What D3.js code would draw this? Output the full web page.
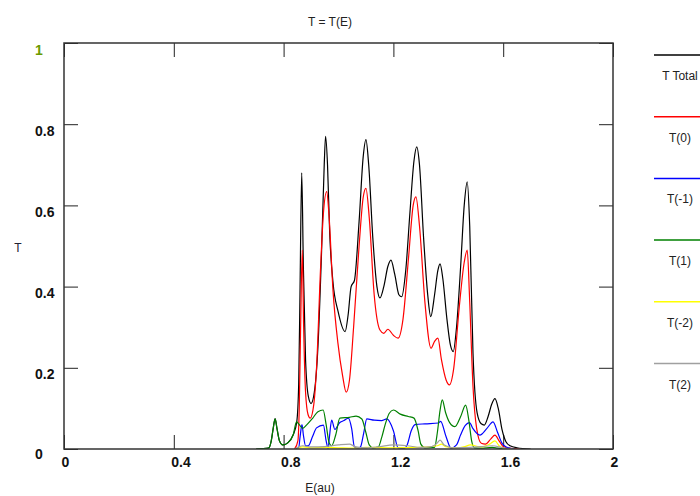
<!DOCTYPE html>
<html>
<head>
<meta charset="utf-8">
<script src="https://cdn.jsdelivr.net/npm/d3@7"></script>
<style>
  body { margin: 0; background: #fff; overflow: hidden; }
  text { font-family: "Liberation Sans", Arial, sans-serif; }
</style>
</head>
<body>
<script>
var width = 700,
    height = 496;

// axis ticks
var xTicks = [0, 0.4, 0.8, 1.2, 1.6, 2];
var yTicks = [0, 0.2, 0.4, 0.6, 0.8, 1];

// series: [E, T]
var tTotal = [
  [0.70, 0], [0.745, 0.002], [0.755, 0.02], [0.762, 0.05], [0.769, 0.075], [0.776, 0.05],
  [0.785, 0.02], [0.797, 0.01], [0.815, 0.015], [0.835, 0.035], [0.848, 0.067], [0.855, 0.16],
  [0.860, 0.40], [0.866, 0.68], [0.872, 0.45], [0.880, 0.22], [0.890, 0.13], [0.900, 0.112],
  [0.912, 0.14], [0.925, 0.25], [0.938, 0.48], [0.948, 0.70], [0.953, 0.77], [0.960, 0.70],
  [0.968, 0.53], [0.980, 0.41], [0.998, 0.34], [1.024, 0.289], [1.035, 0.33], [1.046, 0.40],
  [1.058, 0.415], [1.075, 0.56], [1.090, 0.72], [1.100, 0.762], [1.110, 0.70], [1.125, 0.52],
  [1.140, 0.40], [1.151, 0.372], [1.165, 0.40], [1.180, 0.45], [1.191, 0.465], [1.205, 0.43],
  [1.220, 0.38], [1.230, 0.375], [1.245, 0.44], [1.260, 0.58], [1.275, 0.71], [1.285, 0.744],
  [1.295, 0.70], [1.310, 0.52], [1.325, 0.38], [1.336, 0.326], [1.350, 0.38], [1.362, 0.44],
  [1.370, 0.456], [1.380, 0.42], [1.395, 0.32], [1.408, 0.255], [1.418, 0.240], [1.430, 0.30],
  [1.445, 0.45], [1.458, 0.60], [1.469, 0.658], [1.478, 0.55], [1.490, 0.236], [1.505, 0.089],
  [1.520, 0.062], [1.531, 0.059], [1.545, 0.08], [1.558, 0.11], [1.570, 0.124], [1.582, 0.10],
  [1.596, 0.047], [1.610, 0.018], [1.625, 0.008], [1.650, 0.003], [1.70, 0]
];

var t0 = [
  [0.84, 0], [0.852, 0.02], [0.857, 0.10], [0.862, 0.30], [0.868, 0.49], [0.873, 0.30],
  [0.880, 0.14], [0.889, 0.085], [0.897, 0.076], [0.910, 0.11], [0.920, 0.20], [0.935, 0.45],
  [0.945, 0.58], [0.957, 0.634], [0.965, 0.58], [0.980, 0.39], [0.998, 0.26], [1.015, 0.18],
  [1.028, 0.14], [1.040, 0.17], [1.055, 0.30], [1.075, 0.50], [1.090, 0.62], [1.100, 0.642],
  [1.112, 0.57], [1.130, 0.38], [1.151, 0.293], [1.165, 0.285], [1.180, 0.295], [1.200, 0.28],
  [1.217, 0.273], [1.235, 0.32], [1.255, 0.47], [1.272, 0.60], [1.282, 0.621], [1.295, 0.55],
  [1.315, 0.36], [1.337, 0.248], [1.350, 0.265], [1.362, 0.273], [1.375, 0.22], [1.392, 0.17],
  [1.404, 0.158], [1.420, 0.20], [1.440, 0.35], [1.458, 0.46], [1.469, 0.490], [1.477, 0.38],
  [1.490, 0.154], [1.503, 0.052], [1.520, 0.014], [1.535, 0.012], [1.555, 0.025], [1.570, 0.034],
  [1.585, 0.02], [1.600, 0.006], [1.620, 0.002], [1.66, 0]
];

var tm1 = [
  [0.84, 0], [0.855, 0.003], [0.860, 0.03], [0.867, 0.06], [0.872, 0.035], [0.880, 0.008],
  [0.890, 0.008], [0.905, 0.03], [0.920, 0.052], [0.945, 0.059], [0.955, 0.02], [0.962, 0.002],
  [0.967, 0.03], [0.975, 0.071], [0.987, 0.048], [1.003, 0.064], [1.020, 0.07], [1.036, 0.076],
  [1.048, 0.05], [1.058, 0.005], [1.070, 0.002], [1.080, 0.005], [1.092, 0.04], [1.103, 0.074],
  [1.130, 0.071], [1.157, 0.07], [1.176, 0.074], [1.200, 0.045], [1.217, 0.003], [1.240, 0.002],
  [1.250, 0.01], [1.265, 0.045], [1.279, 0.06], [1.315, 0.062], [1.364, 0.064], [1.372, 0.068],
  [1.392, 0.03], [1.410, 0.002], [1.430, 0.01], [1.445, 0.035], [1.462, 0.058], [1.477, 0.065],
  [1.490, 0.05], [1.515, 0.034], [1.540, 0.05], [1.563, 0.067], [1.580, 0.04], [1.596, 0.014],
  [1.614, 0.004], [1.64, 0]
];

var t1 = [
  [0.70, 0], [0.745, 0.002], [0.755, 0.02], [0.762, 0.05], [0.769, 0.074], [0.776, 0.05],
  [0.785, 0.02], [0.797, 0.01], [0.815, 0.015], [0.835, 0.035], [0.847, 0.067], [0.855, 0.062],
  [0.869, 0.051], [0.885, 0.06], [0.905, 0.075], [0.925, 0.092], [0.944, 0.096], [0.955, 0.06],
  [0.966, 0.015], [0.975, 0.008], [0.990, 0.035], [1.005, 0.076], [1.040, 0.078], [1.064, 0.081],
  [1.085, 0.074], [1.100, 0.04], [1.112, 0.01], [1.125, 0.003], [1.145, 0.005], [1.158, 0.03],
  [1.170, 0.06], [1.185, 0.088], [1.200, 0.096], [1.225, 0.086], [1.254, 0.08], [1.275, 0.076],
  [1.290, 0.045], [1.300, 0.012], [1.315, 0.003], [1.350, 0.004], [1.360, 0.04], [1.370, 0.095],
  [1.378, 0.121], [1.390, 0.09], [1.405, 0.065], [1.424, 0.055], [1.445, 0.08], [1.463, 0.108],
  [1.475, 0.07], [1.485, 0.02], [1.495, 0.003], [1.520, 0.002], [1.560, 0.004], [1.580, 0.002],
  [1.62, 0]
];

var tm2 = [
  [0.85, 0], [0.87, 0.005], [0.90, 0.003], [0.95, 0.004], [1.00, 0.003], [1.05, 0.002],
  [1.10, 0.004], [1.20, 0.003], [1.30, 0.004], [1.36, 0.008], [1.375, 0.012], [1.39, 0.006],
  [1.43, 0.003], [1.46, 0.006], [1.48, 0.01], [1.52, 0.005], [1.55, 0.012], [1.57, 0.02],
  [1.585, 0.008], [1.60, 0.002], [1.62, 0]
];

var t2 = [
  [0.84, 0], [0.87, 0.008], [0.90, 0.005], [0.95, 0.006], [1.00, 0.01], [1.04, 0.012],
  [1.06, 0.006], [1.10, 0.003], [1.15, 0.006], [1.20, 0.01], [1.25, 0.008], [1.30, 0.004],
  [1.34, 0.006], [1.36, 0.015], [1.37, 0.022], [1.385, 0.01], [1.42, 0.003], [1.48, 0.004],
  [1.52, 0.006], [1.56, 0.008], [1.60, 0.003], [1.64, 0]
];

var seriesNames = ['T Total', 'T(0)', 'T(-1)', 'T(1)', 'T(-2)', 'T(2)'];
var seriesData = [tTotal, t0, tm1, t1, tm2, t2];
var seriesColors = ['#000000', '#ff0000', '#0000ff', '#008000', '#ffff00', '#a0a0a0'];

var plotLeft = 64, plotRight = 613, plotTop = 43, plotBottom = 449;

var x = d3.scaleLinear().domain([0, 2]).range([plotLeft, plotRight]);
var y = d3.scaleLinear().domain([0, 1]).range([plotBottom, plotTop]);

var svg = d3.select('body')
  .append('svg')
    .attr('width', width)
    .attr('height', height);

svg.append('clipPath').attr('id', 'plot')
  .append('rect')
    .attr('x', plotLeft).attr('y', plotTop)
    .attr('width', plotRight - plotLeft).attr('height', plotBottom - plotTop);

// ticks (inward on all four sides)
svg.append('g')
    .attr('transform', 'translate(0,' + plotBottom + ')')
    .call(d3.axisBottom(x).tickValues(xTicks).tickSize(-14).tickFormat(d3.format('')))
    .call(function(g){
      g.select('.domain').remove();
      g.selectAll('line').attr('stroke', '#222');
      g.selectAll('text')
        .attr('x', -3).attr('y', 18).attr('dy', null)
        .attr('text-anchor', 'start')
        .style('font-size', '14px').style('font-weight', 'bold').attr('fill', '#111');
    });

svg.append('g')
    .attr('transform', 'translate(0,' + plotTop + ')')
    .call(d3.axisTop(x).tickValues(xTicks).tickSize(-14).tickFormat(''))
    .call(function(g){ g.select('.domain').remove(); g.selectAll('line').attr('stroke', '#222'); });

svg.append('g')
    .attr('transform', 'translate(' + plotLeft + ',0)')
    .call(d3.axisLeft(y).tickValues(yTicks).tickSize(-14).tickFormat(d3.format('')))
    .call(function(g){
      g.select('.domain').remove();
      g.selectAll('line').attr('stroke', '#222');
      g.selectAll('text')
        .attr('x', 35 - plotLeft).attr('dy', null)
        .attr('y', function(d){ return Math.min(y(d) + 11, plotBottom + 9) - y(d); })
        .attr('text-anchor', 'start')
        .style('font-size', '14px').style('font-weight', 'bold')
        .attr('fill', function(d){ return d === 1 ? '#6a9a00' : '#111'; });
    });

svg.append('g')
    .attr('transform', 'translate(' + plotRight + ',0)')
    .call(d3.axisRight(y).tickValues(yTicks).tickSize(-14).tickFormat(''))
    .call(function(g){ g.select('.domain').remove(); g.selectAll('line').attr('stroke', '#222'); });

// series
var line = d3.line()
  .x(function(d){ return x(d[0]); })
  .y(function(d){ return y(d[1]); })
  .curve(d3.curveMonotoneX);

svg.append('g')
    .attr('clip-path', 'url(#plot)')
  .selectAll('path')
    .data(seriesData).enter()
  .append('path')
    .attr('d', line)
    .attr('fill', 'none')
    .attr('stroke', function(d, i){ return seriesColors[i]; })
    .attr('stroke-width', 1.2);

// frame
svg.append('rect')
    .attr('x', plotLeft).attr('y', plotTop)
    .attr('width', plotRight - plotLeft).attr('height', plotBottom - plotTop)
    .attr('fill', 'none')
    .attr('stroke', '#333')
    .attr('stroke-width', 1.5);

// titles
svg.append('text')
    .attr('x', 330).attr('y', 26)
    .attr('text-anchor', 'middle')
    .style('font-size', '12px').attr('fill', '#222')
    .text('T = T(E)');

svg.append('text')
    .attr('x', 320).attr('y', 492)
    .attr('text-anchor', 'middle')
    .style('font-size', '12px').attr('fill', '#222')
    .text('E(au)');

svg.append('text')
    .attr('x', 18).attr('y', 252)
    .attr('text-anchor', 'middle')
    .style('font-size', '12px').attr('fill', '#223')
    .text('T');

// legend
var legend = svg.selectAll('.legend')
    .data(seriesNames).enter()
  .append('g')
    .attr('class', 'legend')
    .attr('transform', function(d, i){ return 'translate(0,' + (55 + i * 61.7) + ')'; });

legend.append('line')
    .attr('x1', 654).attr('x2', 702)
    .attr('stroke', function(d, i){ return seriesColors[i]; })
    .attr('stroke-width', 1.5);

legend.append('text')
    .attr('x', 680).attr('y', 25)
    .attr('text-anchor', 'middle')
    .style('font-size', '12px').attr('fill', '#222')
    .text(function(d){ return d; });
</script>
</body>
</html>
